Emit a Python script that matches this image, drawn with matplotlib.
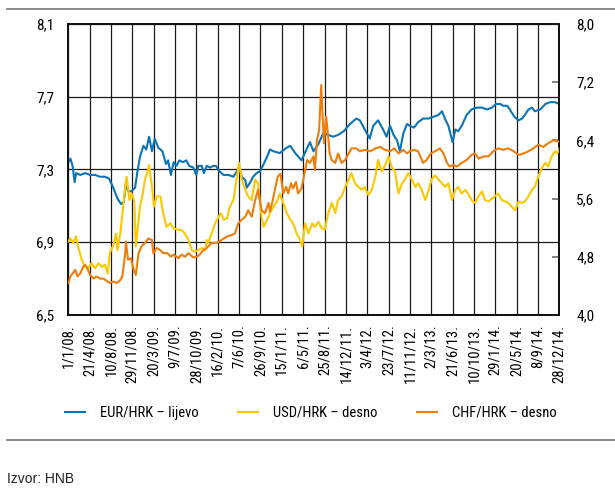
import matplotlib
matplotlib.use("Agg")
import matplotlib.pyplot as plt
import matplotlib.dates as mdates
from matplotlib import font_manager
from matplotlib.ticker import FixedLocator, FuncFormatter
import pandas as pd

# ---------------- data (decimal years) ----------------
eur_t = [2008.00, 2008.03, 2008.06, 2008.09, 2008.11, 2008.17, 2008.24, 2008.31, 2008.38, 2008.45,
         2008.52, 2008.58, 2008.64, 2008.70, 2008.75, 2008.79, 2008.82, 2008.85, 2008.90, 2008.95,
         2008.98, 2009.02, 2009.07, 2009.11, 2009.15, 2009.19, 2009.23, 2009.28, 2009.34, 2009.39,
         2009.42, 2009.46, 2009.50, 2009.54, 2009.58, 2009.63, 2009.68, 2009.72, 2009.78, 2009.82,
         2009.85, 2009.90, 2009.93, 2009.97, 2010.02, 2010.06, 2010.10, 2010.15, 2010.21, 2010.28,
         2010.35, 2010.40, 2010.43, 2010.47, 2010.52, 2010.54, 2010.59, 2010.63, 2010.68, 2010.73,
         2010.78, 2010.83, 2010.87, 2010.92, 2011.01, 2011.11, 2011.16, 2011.23, 2011.32, 2011.39,
         2011.44, 2011.49, 2011.56, 2011.63, 2011.70, 2011.77, 2011.84, 2011.92, 2012.01, 2012.10,
         2012.15, 2012.22, 2012.29, 2012.34, 2012.41, 2012.48, 2012.53, 2012.58, 2012.63, 2012.68,
         2012.72, 2012.77, 2012.82, 2012.86, 2012.92, 2012.98, 2013.05, 2013.13, 2013.20, 2013.27,
         2013.32, 2013.36, 2013.41, 2013.47, 2013.51, 2013.55, 2013.60, 2013.67, 2013.74, 2013.81,
         2013.89, 2013.96, 2014.03, 2014.09, 2014.15, 2014.19, 2014.25, 2014.30, 2014.35, 2014.41,
         2014.46, 2014.50, 2014.55, 2014.60, 2014.64, 2014.72, 2014.79, 2014.86, 2014.93, 2014.99]
eur_v = [7.34, 7.36, 7.32, 7.23, 7.28, 7.27, 7.28, 7.27, 7.27, 7.26,
         7.26, 7.25, 7.20, 7.14, 7.11, 7.12, 7.23, 7.18, 7.18, 7.20,
         7.28, 7.37, 7.43, 7.41, 7.48, 7.40, 7.47, 7.42, 7.40, 7.33,
         7.35, 7.27, 7.34, 7.32, 7.35, 7.34, 7.35, 7.32, 7.31, 7.27,
         7.32, 7.32, 7.28, 7.32, 7.31, 7.32, 7.32, 7.29, 7.27, 7.27,
         7.26, 7.29, 7.31, 7.26, 7.24, 7.20, 7.23, 7.26, 7.28, 7.29,
         7.33, 7.37, 7.41, 7.40, 7.39, 7.42, 7.43, 7.39, 7.35, 7.41,
         7.45, 7.40, 7.44, 7.50, 7.49, 7.48, 7.49, 7.51, 7.55, 7.58,
         7.57, 7.52, 7.47, 7.54, 7.57, 7.52, 7.48, 7.54, 7.49, 7.46,
         7.40, 7.50, 7.55, 7.54, 7.53, 7.56, 7.58, 7.58, 7.59, 7.60,
         7.62, 7.58, 7.54, 7.45, 7.52, 7.51, 7.54, 7.60, 7.63, 7.64,
         7.64, 7.63, 7.64, 7.66, 7.66, 7.65, 7.65, 7.62, 7.59, 7.57,
         7.58, 7.60, 7.63, 7.64, 7.62, 7.63, 7.66, 7.67, 7.67, 7.66]

usd_t = [2008.00, 2008.03, 2008.07, 2008.11, 2008.14, 2008.19, 2008.24, 2008.28, 2008.33, 2008.38,
         2008.43, 2008.48, 2008.52, 2008.56, 2008.59, 2008.64, 2008.68, 2008.70, 2008.74, 2008.77,
         2008.81, 2008.83, 2008.87, 2008.90, 2008.94, 2008.96, 2009.00, 2009.02, 2009.06, 2009.09,
         2009.12, 2009.15, 2009.19, 2009.22, 2009.26, 2009.31, 2009.35, 2009.40, 2009.45, 2009.50,
         2009.57, 2009.61, 2009.66, 2009.71, 2009.76, 2009.80, 2009.85, 2009.90, 2009.95, 2009.97,
         2009.99, 2010.04, 2010.09, 2010.14, 2010.17, 2010.21, 2010.26, 2010.30, 2010.35, 2010.40,
         2010.43, 2010.47, 2010.52, 2010.56, 2010.61, 2010.66, 2010.70, 2010.75, 2010.78, 2010.85,
         2010.87, 2010.92, 2010.97, 2011.01, 2011.06, 2011.11, 2011.16, 2011.20, 2011.25, 2011.30,
         2011.33, 2011.37, 2011.42, 2011.47, 2011.51, 2011.56, 2011.61, 2011.65, 2011.70, 2011.75,
         2011.80, 2011.84, 2011.89, 2011.94, 2011.99, 2012.03, 2012.08, 2012.13, 2012.18, 2012.22,
         2012.27, 2012.32, 2012.37, 2012.41, 2012.46, 2012.51, 2012.56, 2012.60, 2012.65, 2012.70,
         2012.75, 2012.79, 2012.84, 2012.89, 2012.94, 2012.98, 2013.03, 2013.08, 2013.13, 2013.17,
         2013.22, 2013.27, 2013.32, 2013.36, 2013.41, 2013.46, 2013.51, 2013.55, 2013.60, 2013.65,
         2013.69, 2013.74, 2013.79, 2013.84, 2013.89, 2013.93, 2013.98, 2014.03, 2014.07, 2014.12,
         2014.17, 2014.22, 2014.26, 2014.31, 2014.36, 2014.41, 2014.46, 2014.50, 2014.55, 2014.60,
         2014.64, 2014.69, 2014.74, 2014.79, 2014.83, 2014.88, 2014.93, 2014.96, 2014.99]
usd_v = [5.01, 5.05, 4.99, 5.08, 4.94, 4.76, 4.66, 4.64, 4.71, 4.64,
         4.71, 4.66, 4.69, 4.57, 4.85, 4.96, 5.12, 4.89, 5.12, 5.40,
         5.76, 5.90, 5.58, 5.67, 5.56, 4.94, 5.31, 5.49, 5.67, 5.86,
         5.95, 6.06, 5.76, 5.49, 5.63, 5.63, 5.40, 5.21, 5.26, 5.19,
         5.17, 5.17, 5.12, 5.03, 4.89, 4.87, 4.89, 4.92, 4.89, 5.03,
         4.99, 5.12, 5.26, 5.35, 5.40, 5.31, 5.33, 5.49, 5.58, 5.90,
         6.09, 5.86, 5.72, 5.63, 5.58, 5.86, 5.81, 5.35, 5.21, 5.35,
         5.40, 5.49, 5.56, 5.67, 5.54, 5.40, 5.31, 5.26, 5.12, 5.03,
         4.94, 5.26, 5.12, 5.26, 5.21, 5.28, 5.19, 5.17, 5.40, 5.54,
         5.40, 5.58, 5.63, 5.76, 5.86, 5.95, 5.81, 5.76, 5.72, 5.76,
         5.65, 5.72, 5.90, 6.13, 5.97, 6.06, 6.18, 6.04, 5.97, 5.67,
         5.81, 5.86, 5.95, 5.86, 5.76, 5.81, 5.72, 5.58, 5.72, 5.86,
         5.92, 5.86, 5.81, 5.76, 5.81, 5.58, 5.72, 5.76, 5.67, 5.72,
         5.67, 5.58, 5.54, 5.63, 5.70, 5.58, 5.56, 5.60, 5.63, 5.67,
         5.58, 5.56, 5.54, 5.49, 5.44, 5.56, 5.54, 5.56, 5.63, 5.72,
         5.76, 5.90, 6.02, 6.09, 6.04, 6.18, 6.25, 6.22, 6.29]

chf_t = [2008.00, 2008.03, 2008.06, 2008.10, 2008.13, 2008.17, 2008.21, 2008.24, 2008.27, 2008.31,
         2008.36, 2008.40, 2008.45, 2008.50, 2008.56, 2008.59, 2008.64, 2008.69, 2008.74, 2008.77,
         2008.81, 2008.82, 2008.85, 2008.89, 2008.93, 2008.96, 2009.00, 2009.04, 2009.09, 2009.14,
         2009.19, 2009.21, 2009.26, 2009.31, 2009.35, 2009.41, 2009.46, 2009.50, 2009.57, 2009.61,
         2009.66, 2009.71, 2009.78, 2009.83, 2009.87, 2009.92, 2009.97, 2010.04, 2010.11, 2010.18,
         2010.26, 2010.33, 2010.37, 2010.42, 2010.47, 2010.52, 2010.56, 2010.61, 2010.66, 2010.70,
         2010.75, 2010.80, 2010.85, 2010.87, 2010.91, 2010.94, 2010.98, 2011.02, 2011.06, 2011.10,
         2011.13, 2011.17, 2011.20, 2011.24, 2011.27, 2011.32, 2011.37, 2011.40, 2011.44, 2011.49,
         2011.51, 2011.54, 2011.57, 2011.60, 2011.62, 2011.64, 2011.67, 2011.69, 2011.72, 2011.75,
         2011.80, 2011.84, 2011.89, 2011.94, 2011.99, 2012.03, 2012.10, 2012.15, 2012.22, 2012.30,
         2012.37, 2012.44, 2012.51, 2012.58, 2012.64, 2012.70, 2012.77, 2012.82, 2012.86, 2012.92,
         2012.98, 2013.05, 2013.10, 2013.16, 2013.22, 2013.29, 2013.34, 2013.39, 2013.43, 2013.48,
         2013.53, 2013.60, 2013.67, 2013.74, 2013.79, 2013.84, 2013.91, 2013.98, 2014.05, 2014.12,
         2014.19, 2014.26, 2014.34, 2014.41, 2014.48, 2014.55, 2014.62, 2014.69, 2014.76, 2014.83,
         2014.90, 2014.99]
chf_v = [4.44, 4.53, 4.57, 4.62, 4.53, 4.57, 4.66, 4.69, 4.64, 4.55,
         4.50, 4.53, 4.50, 4.50, 4.46, 4.44, 4.46, 4.44, 4.48, 4.53,
         4.85, 5.01, 4.76, 4.78, 4.62, 4.55, 4.85, 4.94, 4.99, 5.05,
         5.03, 4.85, 4.92, 4.89, 4.85, 4.85, 4.80, 4.83, 4.78, 4.83,
         4.80, 4.85, 4.79, 4.80, 4.83, 4.89, 4.92, 4.99, 4.99, 5.03,
         5.08, 5.10, 5.12, 5.26, 5.31, 5.35, 5.44, 5.35, 5.58, 5.72,
         5.44, 5.40, 5.54, 5.42, 5.58, 5.72, 5.90, 5.94, 5.67, 5.76,
         5.67, 5.81, 5.74, 5.83, 5.67, 5.74, 5.99, 6.13, 6.09, 6.18,
         5.99, 6.41, 6.54, 7.16, 6.73, 6.36, 6.73, 6.54, 6.22, 6.13,
         6.09, 6.22, 6.09, 6.13, 6.22, 6.29, 6.29, 6.25, 6.27, 6.25,
         6.29, 6.31, 6.27, 6.25, 6.29, 6.22, 6.27, 6.22, 6.25, 6.27,
         6.25, 6.09, 6.13, 6.22, 6.25, 6.29, 6.22, 6.09, 6.04, 6.06,
         6.04, 6.09, 6.13, 6.20, 6.22, 6.15, 6.18, 6.18, 6.25, 6.29,
         6.27, 6.29, 6.25, 6.20, 6.22, 6.25, 6.29, 6.34, 6.31, 6.36,
         6.40, 6.38]

tick_labels = ["1/1/08.", "21/4/08.", "10/8/08.", "29/11/08.", "20/3/09.", "9/7/09.",
               "28/10/09.", "16/2/10.", "7/6/10.", "26/9/10.", "15/1/11.", "6/5/11.",
               "25/8/11.", "14/12/11.", "3/4/12.", "23/7/12.", "11/11/12.", "2/3/13.",
               "21/6/13.", "10/10/13.", "29/1/14.", "20/5/14.", "8/9/14.", "28/12/14."]
left_ticks = [6.5, 6.9, 7.3, 7.7, 8.1]
right_ticks = [4.0, 4.8, 5.6, 6.4, 7.2, 8.0]
labels = ["EUR/HRK – lijevo", "USD/HRK – desno", "CHF/HRK – desno"]
colors = ["#0b73b7", "#fcc800", "#ef7d0a"]
source = "Izvor: HNB"

# ---------------- font choice (condensed if available) ----------------
names = {f.name for f in font_manager.fontManager.ttflist}
dejavu_cond = any(f.name == "DejaVu Sans" and "condensed" in str(f.stretch).lower()
                  for f in font_manager.fontManager.ttflist)
if "Liberation Sans Narrow" in names:
    fam, stretch, fs = ["Liberation Sans Narrow", "DejaVu Sans"], "normal", 11
elif "Roboto Condensed" in names:
    fam, stretch, fs = ["Roboto Condensed", "DejaVu Sans"], "normal", 10.5
elif dejavu_cond:
    fam, stretch, fs = ["DejaVu Sans", "DejaVu Sans"], "condensed", 9.5
else:
    fam, stretch, fs = ["Liberation Sans", "DejaVu Sans"], "normal", 9.5
plt.rcParams["font.family"] = fam
plt.rcParams["font.stretch"] = stretch

# ---------------- helpers ----------------
base = pd.Timestamp("2008-01-01")
def to_dates(ts):
    return [base + pd.Timedelta(days=(t - 2008.0) * 365.25) for t in ts]

tick_dates = [pd.to_datetime(s.rstrip("."), format="%d/%m/%y") for s in tick_labels]

fig = plt.figure(figsize=(6.15, 4.92), dpi=100)
ax = fig.add_axes([0.1111, 0.3598, 0.7984, 0.5915])
ax2 = ax.twinx()

h1, = ax.plot(to_dates(eur_t), eur_v, color=colors[0], lw=1.5, zorder=3)
h2, = ax2.plot(to_dates(usd_t), usd_v, color=colors[1], lw=1.5, zorder=3)
h3, = ax2.plot(to_dates(chf_t), chf_v, color=colors[2], lw=1.5, zorder=4)

ax.set_xlim(tick_dates[0], tick_dates[-1])
ax.set_ylim(left_ticks[0], left_ticks[-1])
ax2.set_ylim(right_ticks[0], right_ticks[-1])

comma = FuncFormatter(lambda v, p: f"{v:.1f}".replace(".", ","))
ax.yaxis.set_major_locator(FixedLocator(left_ticks))
ax.yaxis.set_major_formatter(comma)
ax2.yaxis.set_major_locator(FixedLocator(right_ticks))
ax2.yaxis.set_major_formatter(comma)

ax.set_xticks([mdates.date2num(d) for d in tick_dates])
ax.set_xticklabels(tick_labels, rotation=90, fontsize=fs)

ax.grid(True, axis="both", color="#1a1a1a", lw=0.9)
ax.set_axisbelow(True)
ax.tick_params(axis="x", length=0, pad=7)
ax.tick_params(axis="y", length=0, pad=10, labelsize=fs + 0.5)
ax2.tick_params(axis="y", direction="in", length=5, width=1.3, color="#777777",
                pad=12, labelsize=fs + 0.5)

for a in (ax, ax2):
    for s in a.spines.values():
        s.set_color("#111111")
        s.set_linewidth(1.3)

fig.legend([h1, h2, h3], labels, loc="center", bbox_to_anchor=(0.505, 0.161), ncol=3,
           frameon=False, fontsize=fs, handlelength=1.4, handletextpad=1.0,
           columnspacing=2.7)

# horizontal rules
fig.add_artist(plt.Line2D([0.0114, 1.0], [0.9817, 0.9817], color="#808080", lw=1.3))
fig.add_artist(plt.Line2D([0.0114, 1.0], [0.1057, 0.1057], color="#808080", lw=1.3))

fig.text(0.0114, 0.026, source, fontsize=10, family=["Liberation Sans", "DejaVu Sans"],
         stretch="normal", ha="left", va="center", color="#222222")

fig.savefig("out.png", dpi=100)
